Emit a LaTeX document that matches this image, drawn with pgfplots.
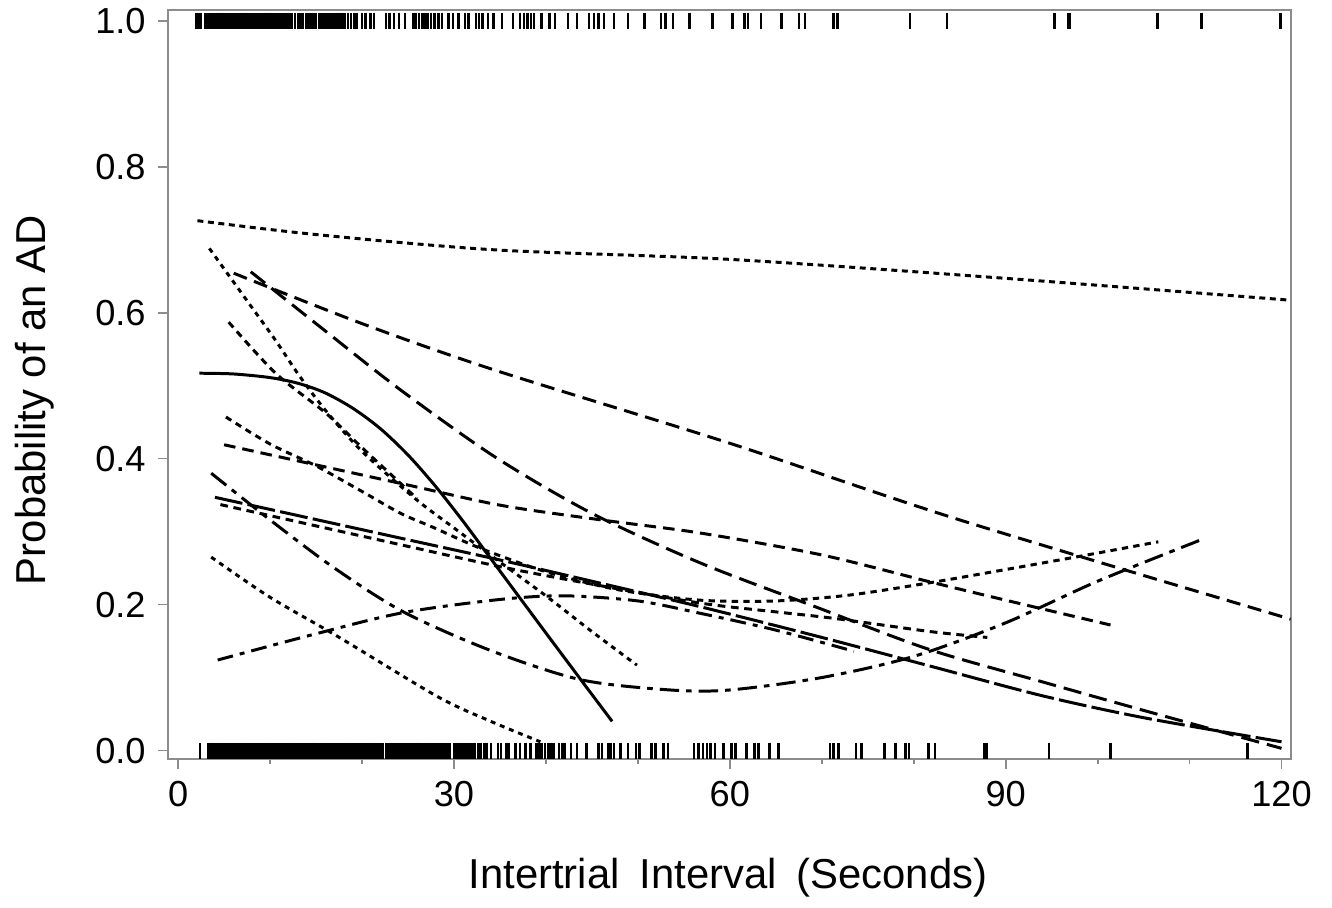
\documentclass[border=0pt]{standalone}
\usepackage{fontspec}
\setmainfont{Liberation Sans}
\usepackage{pgfplots}
\pgfplotsset{compat=1.18}
\newcommand{\tickfont}{\fontsize{10.3}{12}\selectfont}
\newcommand{\labfont}{\fontsize{11.9}{14}\selectfont}
\pgfplotsset{
  cv/.style={black, line width=0.85pt, smooth, no markers},
  rug/.style={only marks, mark=|, mark size=2.27pt, mark options={line width=0.7pt, black, solid}},
}
\begin{document}
\begin{tikzpicture}[x=1cm,y=1cm]
\path[use as bounding box] (-1.68,-1.48) rectangle (11.64,7.59);
\begin{axis}[
  at={(0,0)}, anchor=south west, scale only axis,
  width=11.227cm, height=7.49cm,
  xmin=-1.1, xmax=121.0, ymin=-0.0116, ymax=1.0147,
  xtick={0,30,60,90,120}, minor xtick={10,20,40,50,70,80,100,110},
  ytick={0,0.2,0.4,0.6,0.8,1.0},
  xticklabel={\tickfont\pgfmathprintnumber[assume math mode=true]{\tick}},
  yticklabel={\tickfont\pgfmathprintnumber[assume math mode=true,fixed,fixed zerofill,precision=1]{\tick}},
  tick align=outside, xtick pos=bottom, ytick pos=left,
  major tick length=1mm, minor tick length=0.5mm,
  tick style={black!45, line width=0.5pt},
  axis line style={black!45, line width=0.6pt},
  xlabel={\labfont Intertrial\hspace{0.2em} Interval\hspace{0.2em} (Seconds)},
  ylabel={\labfont Probability of an AD},
  every axis x label/.style={at={(axis description cs:0.4988,-0.158)}, anchor=center},
  every axis y label/.style={at={(axis description cs:-0.1185,0.479)}, anchor=center, rotate=90},
]
% rug at 0
\addplot[rug] coordinates {(2.4,0) (3.3,0) (3.5,0) (3.7,0) (3.9,0) (4.1,0) (4.3,0) (4.5,0) (4.7,0) (4.9,0) (5.1,0) (5.3,0) (5.5,0) (5.7,0) (5.9,0) (6.1,0) (6.3,0) (6.5,0) (6.7,0) (6.9,0) (7.1,0) (7.3,0) (7.5,0) (7.7,0) (7.9,0) (8.1,0) (8.3,0) (8.5,0) (8.7,0) (8.9,0) (9.1,0) (9.3,0) (9.5,0) (9.7,0) (9.9,0) (10.1,0) (10.3,0) (10.5,0) (10.7,0) (10.9,0) (11.1,0) (11.3,0) (11.5,0) (11.7,0) (11.9,0) (12.1,0) (12.3,0) (12.5,0) (12.7,0) (12.9,0) (13.1,0) (13.3,0) (13.5,0) (13.7,0) (13.9,0) (14.1,0) (14.3,0) (14.5,0) (14.7,0) (14.9,0) (15.1,0)
(15.4,0) (15.6,0) (15.8,0) (16.0,0) (16.2,0) (16.4,0) (16.6,0) (16.8,0) (17.0,0) (17.2,0) (17.4,0) (17.6,0) (17.8,0) (18.0,0) (18.2,0) (18.4,0) (18.6,0) (18.8,0) (19.0,0) (19.2,0) (19.4,0) (19.6,0) (19.8,0) (20.0,0) (20.2,0) (20.4,0) (20.6,0) (20.8,0) (21.0,0) (21.2,0) (21.4,0)
(21.7,0) (22.0,0) (22.3,0) (22.6,0) (22.9,0) (23.1,0) (23.3,0) (23.5,0) (23.7,0) (23.9,0) (24.1,0) (24.3,0) (24.5,0) (24.8,0) (25.0,0) (25.2,0) (25.4,0) (25.6,0) (25.8,0) (26.0,0) (26.2,0) (26.4,0) (26.7,0) (26.9,0) (27.1,0) (27.3,0) (27.5,0) (27.7,0) (27.9,0) (28.1,0) (28.3,0) (28.5,0) (28.7,0) (28.9,0) (29.1,0) (29.3,0) (29.5,0)
(30.0,0) (30.2,0) (30.4,0) (30.6,0) (30.8,0) (31.0,0) (31.2,0) (31.4,0) (31.6,0) (31.8,0) (32.0,0) (32.3,0) (32.6,0) (32.9,0) (33.3,0) (33.6,0) (34.0,0)
(34.8,0) (35.1,0) (35.7,0) (36.0,0) (36.7,0) (37.2,0) (37.8,0) (38.3,0) (39.0,0) (39.3,0) (39.6,0) (39.9,0) (40.2,0) (40.5,0) (40.8,0)
(41.4,0) (41.8,0) (42.1,0) (42.7,0) (43.4,0) (44.4,0) (45.7,0) (46.1,0) (46.8,0) (47.1,0) (47.4,0) (48.1,0) (48.9,0) (49.8,0) (50.2,0) (51.5,0) (51.9,0) (52.8,0) (53.3,0)
(56.1,0) (56.6,0) (57.1,0) (57.5,0) (57.9,0) (58.4,0) (59.3,0) (60.2,0) (60.6,0) (61.8,0) (62.7,0) (63.1,0) (64.3,0) (65.3,0)
(70.9,0) (71.3,0) (71.8,0) (73.7,0) (74.3,0) (76.8,0) (78.0,0) (79.1,0) (79.5,0) (81.6,0) (82.3,0) (87.7,0) (87.9,0) (94.7,0) (101.4,0) (116.3,0)};
% rug at 1
\addplot[rug] coordinates {(2.0,1) (2.2,1) (2.5,1) (2.9,1) (3.1,1) (3.3,1) (3.5,1) (3.7,1) (3.9,1)
(4.1,1) (4.3,1) (4.5,1) (4.7,1) (4.9,1) (5.1,1) (5.3,1) (5.5,1) (5.7,1) (5.9,1) (6.1,1) (6.3,1) (6.5,1) (6.7,1) (6.9,1) (7.1,1) (7.3,1) (7.5,1) (7.7,1) (7.9,1) (8.1,1) (8.3,1) (8.5,1) (8.7,1) (8.9,1) (9.1,1) (9.3,1) (9.5,1) (9.7,1) (9.9,1) (10.1,1) (10.3,1) (10.5,1) (10.7,1) (10.9,1) (11.1,1) (11.3,1) (11.5,1) (11.7,1) (11.9,1)
(12.1,1) (12.4,1) (12.7,1) (13.1,1) (13.3,1) (13.6,1) (13.9,1) (14.2,1) (14.5,1) (14.7,1) (15.0,1)
(15.3,1) (15.5,1) (15.7,1) (15.9,1) (16.1,1) (16.3,1) (16.5,1) (16.7,1) (16.9,1) (17.1,1) (17.3,1) (17.5,1) (17.7,1) (17.9,1) (18.1,1)
(18.5,1) (18.8,1) (19.1,1) (19.4,1) (20.0,1) (20.4,1) (20.9,1) (21.3,1) (22.6,1) (23.0,1) (23.5,1) (24.0,1) (24.7,1)
(25.6,1) (25.9,1) (26.2,1) (26.5,1) (26.8,1) (27.1,1) (27.5,1) (27.9,1) (28.3,1) (28.7,1)
(29.4,1) (29.9,1) (30.5,1) (31.2,1) (31.6,1) (32.4,1) (32.7,1) (33.1,1) (33.7,1) (34.3,1) (35.2,1)
(36.4,1) (37.2,1) (37.6,1) (38.0,1) (38.4,1) (38.7,1) (39.5,1) (40.4,1) (41.0,1) (42.4,1) (43.4,1)
(44.7,1) (45.2,1) (45.7,1) (46.3,1) (47.4,1) (48.9,1) (50.7,1) (52.5,1) (53.0,1) (53.8,1) (55.6,1)
(58.1,1) (60.3,1) (61.6,1) (62.0,1) (63.4,1) (65.6,1) (67.5,1) (68.2,1) (71.3,1) (71.7,1) (79.6,1) (83.6,1) (95.3,1) (96.8,1) (97.0,1) (106.5,1) (111.3,1) (119.9,1)};
% curves
\addplot[cv, dash pattern=on 1.7pt off 1.3pt] coordinates {(2.1,0.726) (15,0.707) (34.5,0.686) (60,0.673) (90,0.647) (121,0.617)};
\addplot[cv, dash pattern=on 4pt off 2.2pt] coordinates {(6.05,0.654) (20,0.585) (34.5,0.521) (60,0.421) (85,0.316) (121,0.18)};
\addplot[cv, dash pattern=on 5.2pt off 2.3pt] coordinates {(7.9,0.656) (16,0.575) (24.2,0.494) (34.5,0.402) (45,0.325) (56.8,0.257) (69.3,0.197) (81.8,0.138) (94.3,0.093) (105,0.055) (120,0.003)};
\addplot[cv, solid] coordinates {(2.3,0.517) (6,0.516) (10,0.511) (13.1,0.503) (16,0.49) (19,0.469) (22,0.441) (25,0.405) (28,0.362) (31,0.314) (34,0.263) (39,0.178) (43.8,0.097) (47.2,0.04)};
\addplot[cv, dash pattern=on 1.4pt off 1.4pt] coordinates {(3.4,0.688) (7,0.625) (10.6,0.562) (13.1,0.515) (16.1,0.465) (20,0.41) (25.8,0.345) (30,0.305) (34.7,0.261) (40.1,0.211) (45,0.163) (49.9,0.117)};
\addplot[cv, dash pattern=on 2pt off 1.5pt] coordinates {(5.5,0.587) (10.6,0.517) (16.1,0.462) (20,0.415) (26,0.345)};
\addplot[cv, dash pattern=on 1.8pt off 1.5pt] coordinates {(5.2,0.457) (10,0.42) (15,0.39) (20,0.355) (24.2,0.325) (27.7,0.306) (32.9,0.277) (40,0.245) (48,0.22) (56.8,0.206) (65,0.205) (73,0.213) (81.8,0.23) (90,0.248) (98,0.266) (106.6,0.286)};
\addplot[cv, dash pattern=on 3.3pt off 2pt] coordinates {(5,0.419) (24.2,0.366) (35.1,0.336) (46,0.316) (56.8,0.298) (70,0.268) (81.8,0.231) (90,0.206) (101.4,0.172)};
\addplot[cv, dash pattern=on 5.5pt off 2pt on 1.6pt off 2pt] coordinates {(3.6,0.38) (10,0.316) (17,0.25) (24.5,0.19) (34,0.137) (43.8,0.097) (53.5,0.083) (60,0.083) (70,0.1) (80,0.129) (90,0.175) (100,0.232) (111.5,0.29)};
\addplot[cv, dash pattern=on 8pt off 1.5pt] coordinates {(4.0,0.347) (24.2,0.291) (35.4,0.26) (45,0.232) (56.8,0.197) (70,0.155) (82,0.115) (94,0.075) (105,0.045) (120,0.012)};
\addplot[cv, dash pattern=on 2.2pt off 1.6pt] coordinates {(4.6,0.337) (24.2,0.282) (35,0.252) (45,0.228) (56.8,0.202) (65,0.19) (71.4,0.181) (81.8,0.163) (88,0.155)};
\addplot[cv, dash pattern=on 4.5pt off 2pt on 1.4pt off 2pt] coordinates {(4.3,0.124) (15,0.16) (24.5,0.189) (35,0.207) (42,0.212) (50,0.205) (56.8,0.188) (65,0.165) (73.5,0.136)};
\addplot[cv, dash pattern=on 1.4pt off 1.4pt] coordinates {(3.6,0.265) (10,0.21) (17.4,0.156) (28.2,0.074) (34,0.04) (39.4,0.012)};
\end{axis}
\end{tikzpicture}
\end{document}
